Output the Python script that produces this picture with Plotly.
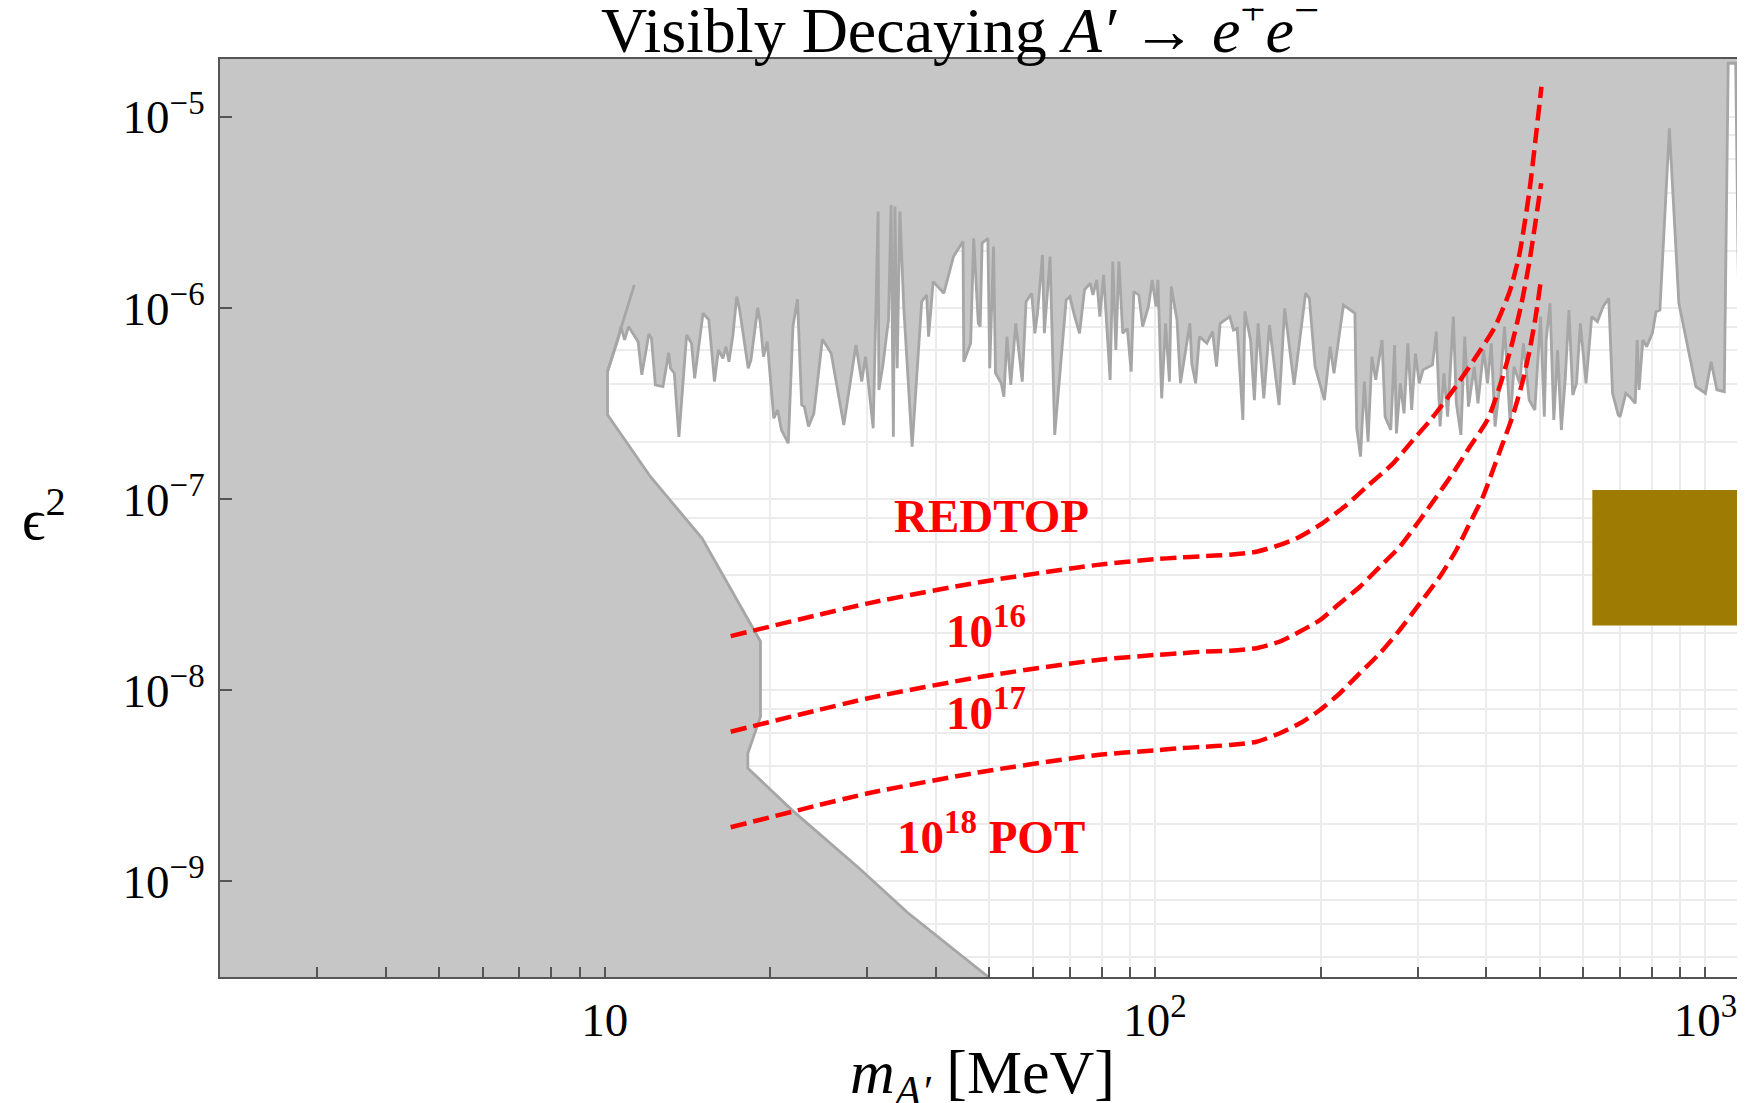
import numpy as np
import plotly.graph_objects as go

# ---------------- data ----------------
# upper (jagged) exclusion boundary: mass [MeV], eps^2
bound_m = [10.12, 10.61, 10.70, 10.87, 11.05, 11.50, 11.68, 12.03, 12.16, 12.36, 12.76, 13.07, 13.17, 13.38,
           13.64, 14.09, 14.38, 14.57, 15.09, 15.46, 15.83, 16.09, 16.40, 16.61, 16.82, 17.10, 17.37, 17.57,
           18.23, 18.44, 18.97, 19.18, 19.43, 19.74, 20.29, 20.62, 20.95, 21.56, 21.98, 22.40, 22.80, 23.05,
           23.46, 23.99, 24.86, 25.79, 27.19, 28.61, 29.31, 29.78, 30.75, 31.39, 31.49, 32.00, 32.78, 33.14,
           33.46, 33.68, 34.00, 34.39, 34.94, 36.19, 37.67, 38.46, 38.77, 39.52, 41.33, 43.02, 44.77, 44.92,
           46.23, 46.82, 47.73, 48.11, 48.50, 49.68, 50.07, 50.88, 51.29, 52.54, 53.13, 53.81, 54.68, 55.83,
           57.37, 58.29, 59.70, 60.47, 61.15, 62.43, 62.93, 64.46, 65.71, 68.94, 70.05, 71.18, 72.91, 74.44,
           76.25, 77.11, 78.35, 79.36, 80.64, 82.86, 83.79, 84.87, 85.96, 87.35, 89.04, 90.48, 91.50, 93.43,
           94.94, 97.24, 98.80, 100.4, 101.2, 102.8, 104.5, 106.2, 107.0, 109.6,
           111.2, 112.9, 115.7, 116.6, 118.5, 120.4, 124.2, 127.2, 129.3, 131.3, 136.7, 138.8, 141.0, 144.4,
           145.6, 149.1, 151.5, 153.9, 157.6, 161.4, 168.0, 172.0, 178.9, 187.7, 190.7, 195.3, 203.1, 208.0,
           211.4, 219.9, 230.7, 232.5, 236.2, 240.0, 243.8, 247.7, 251.7, 258.5, 261.8, 268.1, 272.4, 274.5,
           279.0, 283.4, 287.9, 292.6, 297.2, 302.0, 306.8, 319.2, 324.3, 329.5, 334.8, 340.1, 348.3, 352.7,
           359.5, 365.3, 371.1, 380.1, 386.1, 395.4, 401.8, 408.2, 414.7, 424.7, 431.5, 441.8, 448.9, 459.7,
           467.0, 478.3, 489.8, 501.6, 509.6, 513.7, 521.9, 530.3, 538.7, 547.3, 556.1, 564.9, 574.0, 583.2,
           592.5, 606.8, 621.4, 636.4, 651.6, 667.3, 678.0, 694.3, 699.8, 716.6, 728.1, 745.6, 751.5, 757.5,
           769.6, 781.9, 800.7, 813.5, 826.5, 860.0, 894.8, 931.0, 960.9, 999.9, 1024, 1049, 1082, 1100,
           1135, 1153, 1177]
bound_eps2 = [4.65e-7, 7.09e-7, 8.0e-7, 6.81e-7, 8.0e-7, 6.67e-7, 4.47e-7, 7.32e-7, 6.95e-7, 3.96e-7, 3.88e-7,
              5.84e-7, 4.84e-7, 4.56e-7, 2.12e-7, 7.23e-7, 6.54e-7, 4.29e-7, 9.39e-7, 8.67e-7, 4.12e-7, 6.03e-7,
              5.46e-7, 6.28e-7, 5.24e-7, 7.23e-7, 1.148e-6, 9.97e-7, 4.84e-7, 5.35e-7, 1.005e-6, 8.32e-7,
              5.57e-7, 6.67e-7, 2.65e-7, 2.93e-7, 2.30e-7, 1.96e-7, 8.0e-7, 1.111e-6, 3.11e-7, 3.05e-7, 2.40e-7,
              2.81e-7, 6.86e-7, 5.80e-7, 2.44e-7, 6.41e-7, 4.12e-7, 5.57e-7, 2.35e-7, 3.20e-6, 3.73e-7, 4.94e-7,
              8.67e-7, 3.46e-6, 2.12e-7, 3.40e-6, 4.84e-7, 3.20e-6, 1.017e-6, 1.88e-7, 1.080e-6, 1.171e-6,
              7.09e-7, 1.375e-6, 1.195e-6, 1.859e-6, 2.227e-6, 5.24e-7, 6.54e-7, 2.318e-6, 8.32e-7, 8.0e-7,
              2.183e-6, 2.318e-6, 4.84e-7, 2.097e-6, 4.56e-7, 4.04e-7, 3.44e-7, 7.09e-7, 3.96e-7, 8.32e-7,
              4.12e-7, 1.080e-6, 1.195e-6, 7.38e-7, 9.39e-7, 1.896e-6, 7.38e-7, 1.859e-6, 2.17e-7, 1.102e-6,
              1.148e-6, 9.39e-7, 7.38e-7, 1.244e-6, 1.348e-6, 1.171e-6, 1.403e-6, 9.02e-7, 1.490e-6, 4.21e-7,
              1.750e-6, 6.03e-7, 1.750e-6, 7.38e-7, 7.83e-7, 4.65e-7, 1.219e-6, 1.171e-6, 8.0e-7, 1.017e-6,
              1.403e-6, 1.017e-6, 1.403e-6, 3.37e-7, 8.32e-7, 4.12e-7, 1.295e-6, 8.67e-7,
              4.04e-7, 5.35e-7, 8.32e-7, 5.14e-7, 4.04e-7, 7.09e-7, 6.54e-7, 7.53e-7, 4.94e-7, 8.32e-7, 9.02e-7,
              7.68e-7, 7.83e-7, 2.60e-7, 9.58e-7, 6.81e-7, 3.30e-7, 8.32e-7, 3.37e-7, 8.15e-7, 3.11e-7, 9.97e-7,
              3.96e-7, 1.195e-6, 1.124e-6, 4.94e-7, 3.30e-7, 6.28e-7, 4.56e-7, 1.038e-6, 9.39e-7, 2.35e-7,
              1.67e-7, 4.12e-7, 2.00e-7, 5.57e-7, 4.21e-7, 6.81e-7, 2.70e-7, 2.30e-7, 6.41e-7, 2.21e-7, 4.04e-7,
              2.81e-7, 6.54e-7, 2.93e-7, 5.79e-7, 4.04e-7, 4.75e-7, 5.04e-7, 7.53e-7, 2.40e-7, 4.56e-7, 2.70e-7,
              9.02e-7, 3.17e-7, 2.17e-7, 7.09e-7, 3.05e-7, 4.94e-7, 3.17e-7, 6.03e-7, 4.04e-7, 6.54e-7, 2.40e-7,
              4.38e-7, 8.0e-7, 2.49e-7, 4.94e-7, 4.04e-7, 6.54e-7, 3.30e-7, 2.93e-7, 9.02e-7, 2.70e-7, 6.81e-7,
              1.059e-6, 2.60e-7, 6.03e-7, 2.30e-7, 4.21e-7, 9.77e-7, 3.51e-7, 4.04e-7, 8.32e-7, 4.04e-7, 9.02e-7,
              8.49e-7, 1.017e-6, 1.124e-6, 3.58e-7, 2.76e-7, 2.70e-7, 3.58e-7, 3.44e-7, 3.17e-7, 6.81e-7,
              3.73e-7, 6.81e-7, 6.28e-7, 7.38e-7, 9.58e-7, 9.77e-7, 8.72e-6, 1.059e-6, 6.03e-7, 3.88e-7,
              3.58e-7, 5.24e-7, 3.73e-7, 3.65e-7, 1.91e-5, 1.91e-5, 4.94e-7, 3.30e-7]

# left (low-mass) exclusion boundary
left_m = [11.32, 10.12, 10.12, 11.18, 12.11, 15.03, 18.65, 19.19, 19.19, 18.2, 18.2, 21.9, 29.2, 35.5, 49.8]
left_eps2 = [1.321e-6, 4.65e-7, 2.76e-7, 1.81e-7, 1.31e-7, 6.24e-8, 2.07e-8, 1.80e-8, 7.28e-9, 4.68e-9,
             3.91e-9, 2.36e-9, 1.15e-9, 6.87e-10, 3.16e-10]

# REDTOP projections
c16_m = [16.94, 30.1, 48.6, 78.6, 100, 111, 121, 136.8, 152.9, 168.6, 180.8, 199.3, 222.8, 242.3, 270.7,
         294.3, 316.7, 348.3, 383.2, 414.8, 441.8, 459.6, 478.3, 491.1, 503.5]
c16_eps2 = [1.92e-8, 2.85e-8, 3.70e-8, 4.53e-8, 4.85e-8, 4.95e-8, 5.02e-8, 5.12e-8, 5.31e-8, 5.76e-8, 6.24e-8,
            7.33e-8, 9.33e-8, 1.16e-7, 1.54e-7, 2.04e-7, 2.60e-7, 3.73e-7, 5.57e-7, 8.00e-7, 1.244e-6,
            1.935e-6, 3.99e-6, 7.58e-6, 1.44e-5]
c17_m = [16.94, 30.1, 48.6, 78.6, 100, 111, 121, 136.8, 152.9, 168.6, 183.3, 199.3, 216.7, 235.6, 256.1,
         278.4, 302.7, 324.6, 347.9, 373.1, 401.8, 424.6, 445.4, 463.4, 478.3, 489.8, 503.0]
c17_eps2 = [6.07e-9, 9.08e-9, 1.18e-8, 1.44e-8, 1.53e-8, 1.56e-8, 1.59e-8, 1.61e-8, 1.66e-8, 1.80e-8, 2.03e-8,
            2.33e-8, 2.85e-8, 3.48e-8, 4.43e-8, 5.64e-8, 7.78e-8, 1.03e-7, 1.37e-7, 1.88e-7, 2.60e-7,
            4.04e-7, 6.54e-7, 1.059e-6, 1.716e-6, 2.67e-6, 4.50e-6]
c18_m = [16.94, 30.1, 48.6, 78.6, 100, 111, 121, 136.8, 152.9, 168.6, 183.3, 199.3, 216.7, 235.6, 256.1,
         278.4, 302.7, 329.1, 352.7, 373.1, 394.3, 411.1, 426.0, 446.0, 464.5, 479.3, 491.5, 503.0]
c18_eps2 = [1.92e-9, 2.89e-9, 3.75e-9, 4.59e-9, 4.85e-9, 4.97e-9, 5.05e-9, 5.17e-9, 5.38e-9, 5.96e-9, 6.72e-9,
            7.88e-9, 9.65e-9, 1.23e-8, 1.56e-8, 2.07e-8, 2.85e-8, 3.93e-8, 5.42e-8, 7.48e-8, 1.03e-7,
            1.42e-7, 1.88e-7, 2.70e-7, 4.04e-7, 6.03e-7, 9.02e-7, 1.432e-6]

# other experiment box
box_m = [623.0, 1500.0]
box_eps2 = [2.18e-8, 1.117e-7]

# axes
x_range_mev = [2.0, 1180.0]
y_range_eps2 = [3.16e-10, 2.01e-5]
x_tickvals = [10, 100, 1000]
x_ticktext = ["10", "10<sup>2</sup>", "10<sup>3</sup>"]
x_minor = [2, 3, 4, 5, 6, 7, 8, 9, 20, 30, 40, 50, 60, 70, 80, 90, 200, 300, 400, 500, 600, 700, 800, 900]
y_tickvals = [1e-9, 1e-8, 1e-7, 1e-6, 1e-5]
y_ticktext = ["10<sup>\u22129</sup>", "10<sup>\u22128</sup>", "10<sup>\u22127</sup>",
              "10<sup>\u22126</sup>", "10<sup>\u22125</sup>"]
y_minor = [2e-10, 4e-10, 6e-10, 8e-10, 2e-9, 4e-9, 6e-9, 8e-9, 2e-8, 4e-8, 6e-8, 8e-8,
           2e-7, 4e-7, 6e-7, 8e-7, 2e-6, 4e-6, 6e-6, 8e-6, 2e-5]

# ---------------- figure ----------------
GRAY_FILL = "#c6c6c6"
GRAY_LINE = "#a6a6a6"
AXIS = "#555555"
GRID = "#ececec"
SERIF = "Liberation Serif"

xr = [np.log10(x_range_mev[0]), np.log10(x_range_mev[1])]
yr = [np.log10(y_range_eps2[0]), np.log10(y_range_eps2[1])]
x_lo, x_hi = 10 ** (xr[0] - 0.3), 10 ** (xr[1] + 0.3)
y_lo, y_hi = 10 ** (yr[0] - 0.5), 10 ** (yr[1] + 0.5)

poly_x = [x_lo, x_hi, x_hi] + bound_m[::-1] + left_m[2:] + [x_lo]
poly_y = [y_hi, y_hi, bound_eps2[-1]] + bound_eps2[::-1] + left_eps2[2:] + [y_lo]

fig = go.Figure()
fig.add_trace(go.Scatter(x=poly_x, y=poly_y, mode="lines", fill="toself", fillcolor=GRAY_FILL,
                         line=dict(width=0), hoverinfo="skip", showlegend=False))
fig.add_trace(go.Scatter(x=bound_m + [x_hi], y=bound_eps2 + [bound_eps2[-1]], mode="lines",
                         line=dict(color=GRAY_LINE, width=2.8), showlegend=False))
fig.add_trace(go.Scatter(x=left_m, y=left_eps2, mode="lines",
                         line=dict(color=GRAY_LINE, width=2.8), showlegend=False))
# box
fig.add_trace(go.Scatter(x=[box_m[0], box_m[1], box_m[1], box_m[0], box_m[0]],
                         y=[box_eps2[0], box_eps2[0], box_eps2[1], box_eps2[1], box_eps2[0]],
                         mode="lines", fill="toself", fillcolor="#9e7b02",
                         line=dict(width=0), showlegend=False))
for cm, ce in [(c16_m, c16_eps2), (c17_m, c17_eps2), (c18_m, c18_eps2)]:
    fig.add_trace(go.Scatter(x=cm, y=ce, mode="lines",
                             line=dict(color="#ff0000", width=4.5, dash="16px,7px", shape="spline",
                                       smoothing=0.6),
                             showlegend=False))

tickfont = dict(family=SERIF, size=47, color="black")
fig.update_xaxes(type="log", range=xr, tickmode="array", tickvals=x_tickvals, ticktext=x_ticktext,
                 ticks="inside", ticklen=10, tickwidth=1.5, tickcolor=AXIS,
                 showline=True, linecolor=AXIS, linewidth=2, mirror=True,
                 showgrid=True, gridcolor=GRID, gridwidth=1.5, zeroline=False,
                 tickfont=tickfont, ticklabelstandoff=1,
                 minor=dict(tickmode="array", tickvals=x_minor, ticks="inside", ticklen=10, tickwidth=1.5,
                            tickcolor=AXIS, showgrid=True, gridcolor=GRID, gridwidth=1.5))
fig.update_yaxes(type="log", range=yr, tickmode="array", tickvals=y_tickvals, ticktext=y_ticktext,
                 ticks="inside", ticklen=12, tickwidth=1.5, tickcolor=AXIS,
                 showline=True, linecolor=AXIS, linewidth=2, mirror=False,
                 showgrid=True, gridcolor=GRID, gridwidth=1.5, zeroline=False,
                 tickfont=tickfont, ticklabelstandoff=4,
                 minor=dict(tickmode="array", tickvals=y_minor, ticks="", showgrid=True,
                            gridcolor=GRID, gridwidth=1.5))

def ann(text, x, y, size, color="black", bold=False):
    fig.add_annotation(text=("<b>%s</b>" % text) if bold else text, x=x, y=y, xref="paper", yref="paper",
                       xanchor="center", yanchor="middle", showarrow=False,
                       font=dict(family=SERIF, size=size, color=color))

ann("Visibly Decaying <i>A\u2032</i> \u2192 <i>e</i><sup>+</sup><i>e</i><sup>\u2212</sup>", 0.4852, 1.036, 64)
ann("<i>m</i><sub><i>A\u2032</i></sub> [MeV]", 0.4997, -0.108, 62)
ann("\u03f5<sup>2</sup>", -0.1154, 0.503, 58)
ann("REDTOP", 0.5056, 0.5022, 47, "#ff0000", True)
ann("10<sup>16</sup>", 0.5023, 0.3802, 47, "#ff0000", True)
ann("10<sup>17</sup>", 0.5023, 0.2919, 47, "#ff0000", True)
ann("10<sup>18</sup> POT", 0.5056, 0.1558, 47, "#ff0000", True)

# page body adds an 8px offset; size the figure so that the plot area lands where intended
fig.update_layout(width=1737, height=1095, margin=dict(l=212, r=0, t=51, b=126),
                  plot_bgcolor="white", paper_bgcolor="white", showlegend=False)
fig.write_html("out.html")
